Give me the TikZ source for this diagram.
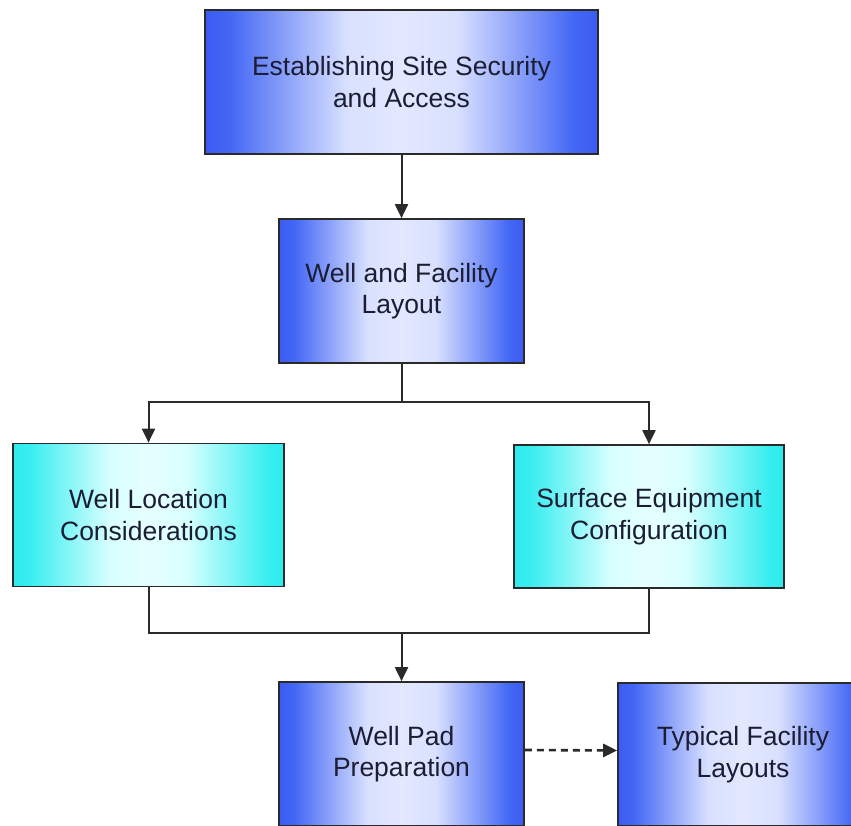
\documentclass[tikz,border=0pt]{standalone}
\usepackage{fontspec}
\setmainfont{Liberation Sans}
\usetikzlibrary{arrows.meta}
\definecolor{txt}{HTML}{1B1D33}
\definecolor{edge}{HTML}{2A2A2A}
\pgfdeclarehorizontalshading{blueshade}{100bp}{%
  rgb(0bp)=(0.23,0.36,0.95); rgb(25bp)=(0.23,0.36,0.95); rgb(28bp)=(0.26,0.4,0.96);
  rgb(43bp)=(0.85,0.88,1); rgb(50bp)=(0.89,0.91,1); rgb(57bp)=(0.85,0.88,1);
  rgb(72bp)=(0.26,0.4,0.96); rgb(75bp)=(0.23,0.36,0.95); rgb(100bp)=(0.23,0.36,0.95)}
\pgfdeclarehorizontalshading{cyanshade}{100bp}{%
  rgb(0bp)=(0.18,0.92,0.93); rgb(25bp)=(0.18,0.92,0.93); rgb(28bp)=(0.22,0.93,0.94);
  rgb(43bp)=(0.85,1,1); rgb(50bp)=(0.9,1,1); rgb(57bp)=(0.85,1,1);
  rgb(72bp)=(0.22,0.93,0.94); rgb(75bp)=(0.18,0.92,0.93); rgb(100bp)=(0.18,0.92,0.93)}
\tikzset{
  box/.style={draw=edge, line width=1.7pt, inner sep=0pt, align=center,
    text=txt, font=\fontsize{26.5}{31.5}\selectfont},
  bluebox/.style={box, shading=blueshade},
  cyanbox/.style={box, shading=cyanshade},
  conn/.style={draw=edge, line width=2pt},
  arr/.style={conn, -{Triangle[length=14pt,width=13pt]}},
  dasharr/.style={arr, line width=2.6pt, dash pattern=on 7pt off 5pt}
}
\begin{document}
\begin{tikzpicture}[x=1pt,y=-1pt]
\useasboundingbox (0,0) rectangle (851,825);
\clip (0,0) rectangle (851,825);
\node[bluebox, minimum width=393pt, minimum height=144pt] (A) at (401.5,82) {Establishing Site Security\\and Access};
\node[bluebox, minimum width=245pt, minimum height=144pt] (B) at (401.5,291) {Well and Facility\\Layout};
\node[cyanbox, minimum width=271pt, minimum height=143pt] (C) at (148.5,515) {Well Location\\Considerations};
\node[cyanbox, minimum width=270pt, minimum height=143pt] (D) at (649,516.5) {Surface Equipment\\Configuration};
\node[bluebox, minimum width=245pt, minimum height=144pt] (E) at (401.5,754) {Well Pad\\Preparation};
\node[bluebox, minimum width=250pt, minimum height=143pt] (F) at (743,754.5) {Typical Facility\\Layouts};
\coordinate (j1) at (401.5,402);
\coordinate (j2) at (401.5,633);
\draw[arr] (A.south) -- (B.north);
\draw[conn] (B.south) -- (j1);
\draw[arr] (j1) -| (C.north);
\draw[arr] (j1) -| (D.north);
\draw[conn] (C.south) |- (j2) -| (D.south);
\draw[arr] (j2) -- (E.north);
\draw[dasharr] ([yshift=4pt]E.east) -- ([yshift=4pt]F.west);
\end{tikzpicture}
\end{document}
